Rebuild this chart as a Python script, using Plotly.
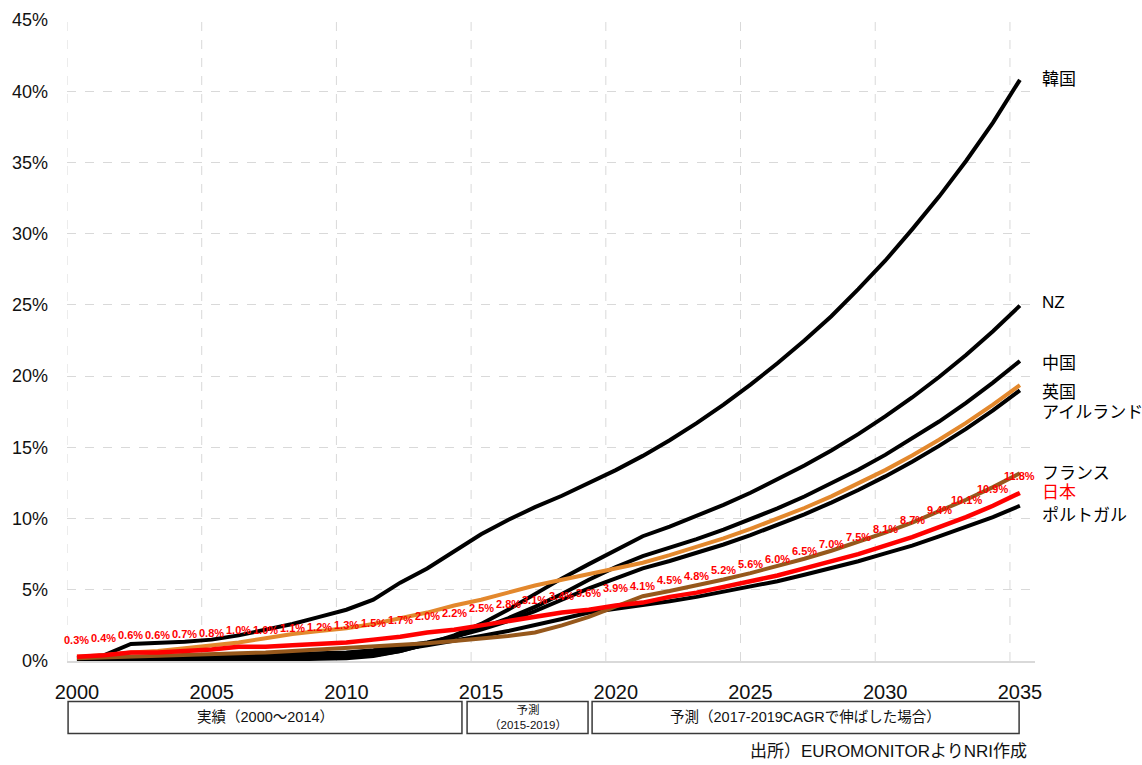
import plotly.graph_objects as go

# Years on the category axis
years = list(range(2000, 2036))

# Share (%) by country, 2000-2035
korea = [0.2, 0.4, 1.2, 1.25, 1.35, 1.5, 1.8, 2.2, 2.6, 3.1, 3.6, 4.3, 5.5, 6.5, 7.7, 8.9, 9.9, 10.8,
         11.6, 12.5, 13.4, 14.4, 15.5, 16.7, 18.0, 19.4, 20.9, 22.5, 24.2, 26.1, 28.1, 30.3, 32.6,
         35.1, 37.8, 40.8]
nz = [0.05, 0.05, 0.05, 0.1, 0.1, 0.1, 0.15, 0.15, 0.2, 0.25, 0.3, 0.4, 0.7, 1.2, 1.8, 2.6, 3.6,
      4.7, 5.8, 6.8, 7.8, 8.76, 9.44, 10.17, 10.96, 11.81, 12.73, 13.72, 14.78, 15.93, 17.17,
      18.5, 19.94, 21.48, 23.15, 24.95]
china = [0.0, 0.0, 0.0, 0.0, 0.05, 0.05, 0.05, 0.1, 0.1, 0.15, 0.2, 0.35, 0.7, 1.2, 1.7, 2.3, 3.0,
         3.8, 4.7, 5.7, 6.6, 7.36, 7.93, 8.55, 9.22, 9.94, 10.71, 11.55, 12.45, 13.42, 14.47,
         15.6, 16.81, 18.12, 19.54, 21.06]
uk = [0.3, 0.4, 0.6, 0.7, 0.9, 1.1, 1.3, 1.6, 1.9, 2.1, 2.3, 2.6, 3.0, 3.4, 3.9, 4.3, 4.8, 5.3,
      5.7, 6.1, 6.5, 6.9, 7.43, 8.0, 8.61, 9.27, 9.98, 10.74, 11.56, 12.45, 13.4, 14.43, 15.53,
      16.72, 18.0, 19.37]
ireland = [0.1, 0.15, 0.2, 0.25, 0.3, 0.35, 0.4, 0.45, 0.5, 0.55, 0.6, 0.75, 1.0, 1.3, 1.7, 2.2,
           2.8, 3.5, 4.3, 5.1, 5.8, 6.5, 7.02, 7.58, 8.18, 8.83, 9.54, 10.3, 11.12, 12.0, 12.96,
           13.99, 15.1, 16.3, 17.6, 19.0]
france = [0.2, 0.25, 0.3, 0.35, 0.4, 0.45, 0.5, 0.6, 0.7, 0.8, 0.9, 1.0, 1.1, 1.25, 1.4, 1.55,
          1.75, 2.0, 2.5, 3.1, 3.8, 4.55, 4.91, 5.3, 5.72, 6.17, 6.65, 7.18, 7.74, 8.35, 9.01,
          9.72, 10.49, 11.32, 12.21, 13.18]
japan = [0.3, 0.4, 0.6, 0.6, 0.7, 0.8, 1.0, 1.0, 1.1, 1.2, 1.3, 1.5, 1.7, 2.0, 2.2, 2.5, 2.8,
         3.1, 3.4, 3.6, 3.9, 4.1, 4.5, 4.8, 5.2, 5.6, 6.0, 6.5, 7.0, 7.5, 8.1, 8.7, 9.4, 10.1,
         10.9, 11.8]
portugal = [0.05, 0.05, 0.1, 0.1, 0.15, 0.2, 0.25, 0.3, 0.35, 0.4, 0.45, 0.6, 0.8, 1.1, 1.4,
            1.75, 2.1, 2.5, 2.95, 3.4, 3.65, 3.9, 4.2, 4.5, 4.85, 5.2, 5.6, 6.05, 6.5, 7.0, 7.55,
            8.1, 8.75, 9.4, 10.1, 10.9]

x_tick_years = [2000, 2005, 2010, 2015, 2020, 2025, 2030, 2035]
y_ticks = [0, 5, 10, 15, 20, 25, 30, 35, 40, 45]

BLACK = "#000000"
ORANGE = "#E3882D"
BROWN = "#96581C"
RED = "#FF0000"
FONT = "Arial, 'Liberation Sans', 'Noto Sans CJK JP', sans-serif"

# name, values, colour, width, label yshift
series = [
    ("韓国", korea, BLACK, 4, 0),
    ("NZ", nz, BLACK, 4, 3),
    ("中国", china, BLACK, 4, -2),
    ("アイルランド", ireland, BLACK, 4, -22),
    ("ポルトガル", portugal, BLACK, 4, -10),
    ("英国", uk, ORANGE, 4, -7),
    ("フランス", france, BROWN, 4, 0),
    ("日本", japan, RED, 4.5, 0),
]

fig = go.Figure()
for name, vals, col, w, _ in series:
    fig.add_trace(go.Scatter(x=years, y=vals, mode="lines", name=name,
                             line=dict(color=col, width=w), showlegend=False,
                             hoverinfo="skip"))

annotations = []
# end-of-line country labels
for name, vals, col, w, ysh in series:
    annotations.append(dict(x=years[-1], y=vals[-1], text=name, showarrow=False,
                            xanchor="left", yanchor="middle", xshift=20, yshift=ysh,
                            font=dict(size=17, color=RED if name == "日本" else BLACK,
                                      family=FONT)))
# value labels for Japan
for yr, v in zip(years, japan):
    annotations.append(dict(x=yr, y=v, text=f"<b>{v:.1f}%</b>", showarrow=False,
                            xanchor="center", yanchor="middle", yshift=17,
                            font=dict(size=11, color=RED, family=FONT)))

# period boxes under the axis
box_y0, box_y1 = -0.113, -0.063
periods = [
    (1999.67, 2014.29, "実績（2000〜2014）", 14.5),
    (2014.48, 2018.97, "予測<br>（2015-2019）", 11.5),
    (2019.12, 2034.97, "予測（2017-2019CAGRで伸ばした場合）", 14.5),
]
shapes = []
for x0, x1, label, fs in periods:
    shapes.append(dict(type="rect", xref="x", yref="paper", x0=x0, x1=x1,
                       y0=box_y0, y1=box_y1, line=dict(color="#3a3a3a", width=1.5),
                       fillcolor="rgba(0,0,0,0)", layer="above"))
    annotations.append(dict(x=(x0 + x1) / 2, y=(box_y0 + box_y1) / 2, xref="x",
                            yref="paper", text=label, showarrow=False,
                            xanchor="center", yanchor="middle", valign="middle",
                            font=dict(size=fs, color="#111111", family=FONT)))

annotations.append(dict(x=2035.35, y=-0.141, xref="x", yref="paper",
                        text="出所）EUROMONITORよりNRI作成", showarrow=False,
                        xanchor="right", yanchor="middle",
                        font=dict(size=17, color="#111111", family=FONT)))

# vertical dashed gridlines sit slightly left of each labelled year
GRID_OFFSET = 0.37
for yr in x_tick_years:
    shapes.append(dict(type="line", xref="x", yref="paper", x0=yr - GRID_OFFSET,
                       x1=yr - GRID_OFFSET, y0=0, y1=1, layer="below",
                       line=dict(color="#d9d9d9", width=1, dash="dash")))

fig.update_layout(
    width=1142, height=765,
    margin=dict(l=67, r=107, t=20, b=104, autoexpand=False),
    paper_bgcolor="white", plot_bgcolor="white",
    font=dict(family=FONT, color="#111111"),
    shapes=shapes, annotations=annotations,
    xaxis=dict(range=[1999.63, 2035.56], tickvals=x_tick_years,
               ticktext=[str(v) for v in x_tick_years], showgrid=False,
               zeroline=False, showline=True, linecolor="#d9d9d9", linewidth=1.5,
               ticks="", ticklabelstandoff=12, tickfont=dict(size=20, color="#111111")),
    yaxis=dict(range=[0, 45], tickvals=y_ticks, ticktext=[f"{v}%" for v in y_ticks],
               showgrid=True, gridcolor="#d9d9d9", griddash="dash", gridwidth=1,
               zeroline=False, showline=False, ticks="", ticklabelstandoff=18,
               tickfont=dict(size=18, color="#111111")),
)

fig.write_html("out.html")
